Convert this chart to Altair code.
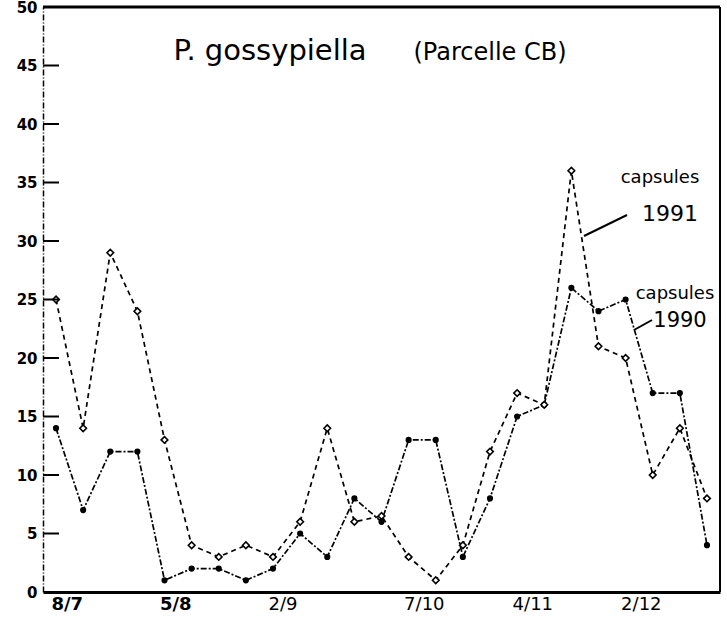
import altair as alt
import pandas as pd

# Weekly sampling index (week 0 = 8 July)
week = [0, 1, 2, 3, 4, 5, 6, 7, 8, 9, 10, 11, 12,
        13, 14, 15, 16, 17, 18, 19, 20, 21, 22, 23, 24]

# P. gossypiella counts per sample, two seasons
capsules_1990 = [14, 7, 12, 12, 1, 2, 2, 1, 2, 5, 3, 8, 6,
                 13, 13, 3, 8, 15, 16, 26, 24, 25, 17, 17, 4]
capsules_1991 = [25, 14, 29, 24, 13, 4, 3, 4, 3, 6, 14, 6, 6.5,
                 3, 1, 4, 12, 17, 16, 36, 21, 20, 10, 14, 8]

# Date labels on the time axis and the weeks they fall on
date_weeks = [0, 4, 8, 13, 17, 21]
date_labels = ["8/7", "5/8", "2/9", "7/10", "4/11", "2/12"]

# Count axis ticks
y_ticks = [0, 5, 10, 15, 20, 25, 30, 35, 40, 45, 50]
inner_ticks = [5, 10, 15, 20, 25, 30, 35, 40, 45]

df = pd.DataFrame({
    "week": week * 2,
    "count": capsules_1990 + capsules_1991,
    "series": ["1990"] * len(week) + ["1991"] * len(week),
})

W, H = 677, 585
FONT = "DejaVu Sans"

label_expr = "[{}][indexof([{}], datum.value)]".format(
    ",".join("'%s'" % s for s in date_labels),
    ",".join(str(v) for v in date_weeks),
)

x_scale = alt.Scale(domain=[-0.48, 24.48], nice=False, zero=False)
y_scale = alt.Scale(domain=[0, 50], nice=False)

x_enc = alt.X(
    "week:Q", scale=x_scale,
    axis=alt.Axis(
        values=date_weeks, labelExpr=label_expr, ticks=False, grid=False,
        domainColor="black", domainWidth=3, title=None,
        labelFont=FONT, labelFontSize=18, labelColor="black",
        labelAlign="left", labelOffset=-5, labelBaseline="top",
        labelPadding=3, labelFlush=False, labelOverlap=False,
        labelFontWeight={"condition": {"test": "datum.value <= 4", "value": "bold"},
                         "value": "normal"},
    ),
)
y_enc = alt.Y(
    "count:Q", scale=y_scale,
    axis=alt.Axis(
        values=y_ticks, ticks=False, grid=False, title=None,
        domainColor="black", domainWidth=1.5, domainDash=[6, 2, 1, 2],
        labelFont=FONT, labelFontSize=15, labelFontWeight="bold",
        labelColor="black", labelPadding=6, labelFlush=False,
        labelOverlap=False,
    ),
)

base = alt.Chart(df)

lines = base.mark_line(color="black", strokeWidth=1.7).encode(
    x=x_enc, y=y_enc,
    strokeDash=alt.StrokeDash(
        "series:N",
        scale=alt.Scale(domain=["1990", "1991"], range=[[6, 2, 2, 2], [5, 4]]),
        legend=None,
    ),
    order="week:Q",
)

pts_1990 = base.transform_filter(alt.datum.series == "1990").mark_point(
    shape="circle", filled=True, size=38, color="black", opacity=1
).encode(x="week:Q", y="count:Q")

pts_1991 = base.transform_filter(alt.datum.series == "1991").mark_point(
    shape="diamond", filled=True, fill="white", stroke="black",
    strokeWidth=1.6, size=44, opacity=1
).encode(x="week:Q", y="count:Q")

ticks = alt.Chart(pd.DataFrame({"count": inner_ticks})).mark_rule(
    color="black", strokeWidth=2
).encode(y=alt.Y("count:Q", scale=y_scale), x=alt.value(0), x2=alt.value(16))

one = alt.Data(values=[{}])

top_border = alt.Chart(one).mark_rule(color="black", strokeWidth=3).encode(
    x=alt.value(0), x2=alt.value(W), y=alt.value(0)
)
right_border = alt.Chart(one).mark_rule(color="black", strokeWidth=2).encode(
    x=alt.value(W), y=alt.value(0), y2=alt.value(H)
)


def note(text, px, py, size, align="center"):
    return alt.Chart(one).mark_text(
        text=text, font=FONT, fontSize=size, color="black",
        align=align, baseline="alphabetic",
    ).encode(x=alt.value(px), y=alt.value(py))


def leader(x0, y0, x1, y1):
    return alt.Chart(one).mark_rule(color="black", strokeWidth=2).encode(
        x=alt.value(x0), y=alt.value(y0), x2=alt.value(x1), y2=alt.value(y1)
    )


annotations = [
    note("P. gossypiella", 227, 53, 29),
    note("(Parcelle CB)", 447, 53, 24),
    note("capsules", 617, 176, 18),
    note("1991", 627, 214, 22),
    leader(541, 229, 584, 208),
    note("capsules", 632, 292, 18),
    note("1990", 637, 320, 21),
    leader(591, 323, 609, 313),
]

chart = alt.layer(
    lines, pts_1990, pts_1991, ticks, top_border, right_border, *annotations
).properties(
    width=W, height=H,
    padding={"left": 43, "top": 7, "right": 7, "bottom": 34},
    autosize=alt.AutoSizeParams(type="none"),
    background="white",
).configure_view(stroke=None)

chart.save("out.html", embed_options={"renderer": "svg", "actions": False})
